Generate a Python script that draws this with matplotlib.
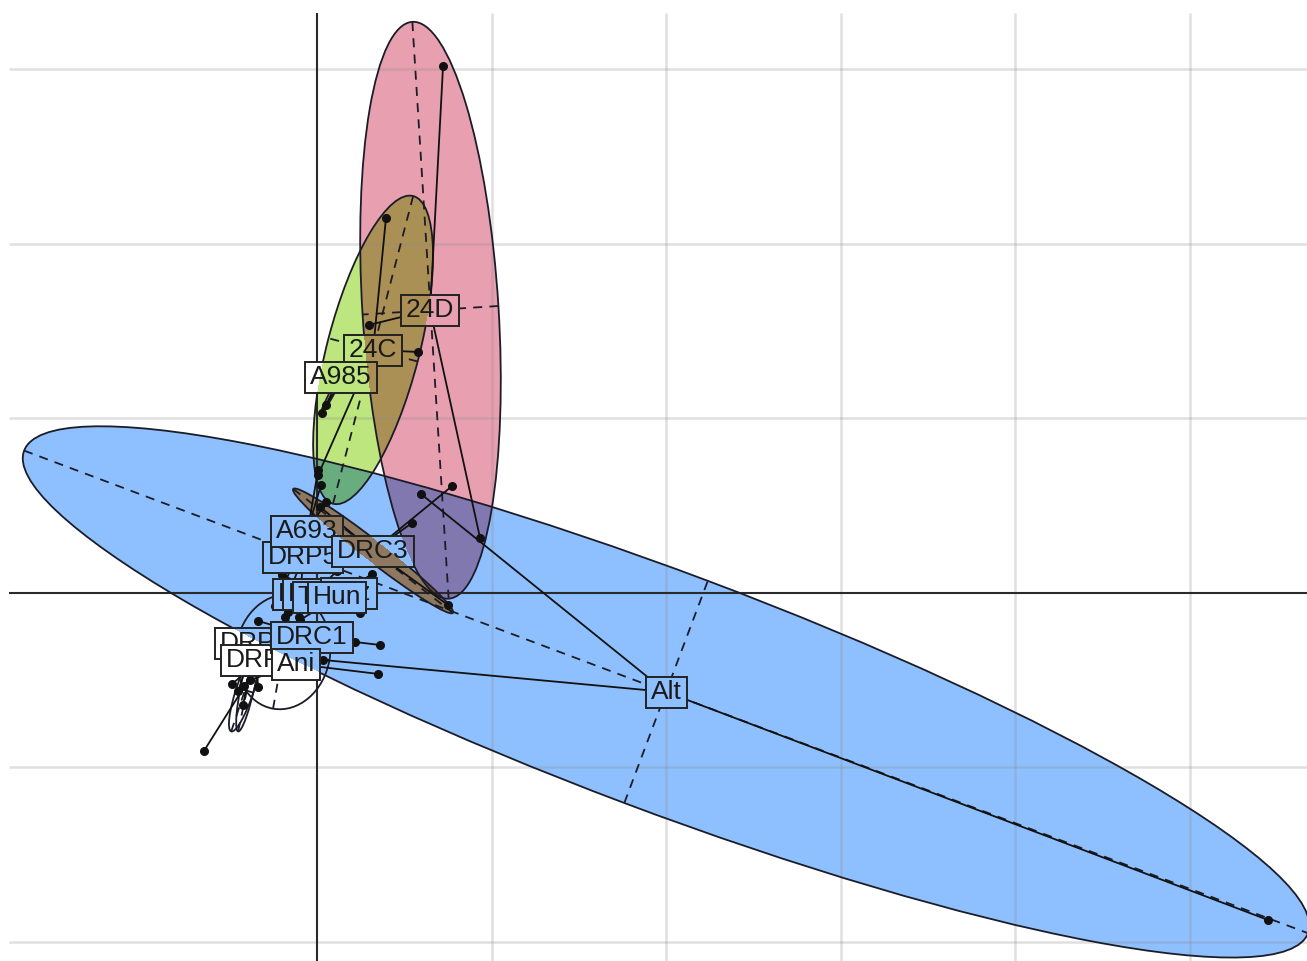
"""
s.class style group plot: star lines, ellipses, boxed labels
"""
import numpy as np
import matplotlib
matplotlib.use('Agg')
from matplotlib import pyplot as plt, colors as mcolors
from matplotlib.patches import Ellipse, Rectangle

# group labels in drawing order, with their centroids
labels = ['DRP1', 'DRP4', 'Kaz', 'Tun', 'Hun', 'DRP3', 'DRP2', 'DRC1', 'Ani',
          'DRP5', 'A693', 'DRC3', '24C', 'A985', '24D', 'Alt']
cent_x = [-0.023, 0.034, 0.183, 0.017, 0.115, -0.355, -0.321, -0.029, -0.120,
          -0.080, -0.057, 0.321, 0.321, 0.138, 0.648, 2.000]
cent_y = [-0.006, -0.006, 0.000, -0.023, -0.023, -0.287, -0.384, -0.252, -0.407,
          0.206, 0.355, 0.241, 1.393, 1.238, 1.622, -0.567]

# individual rows (points) and their group
point_group = ['Alt', 'Alt', 'Alt',
               '24D', '24D', '24D',
               '24C', '24C', '24C',
               'A985', 'A985', 'A985', 'A985',
               'DRC3', 'DRC3', 'DRC3', 'DRC3',
               'A693', 'A693', 'A693',
               'DRP5', 'DRP5', 'DRP5',
               'DRP1', 'DRP1', 'DRP4', 'DRP4', 'Kaz', 'Kaz',
               'Tun', 'Tun', 'Hun', 'Hun',
               'DRC1', 'DRC1', 'DRC1', 'DRC1',
               'Ani', 'Ani', 'Ani',
               'DRP2', 'DRP2', 'DRP2',
               'DRP3', 'DRP3', 'DRP3']
point_x = [5.450, 0.596, 0.034,
           0.722, 0.934, 0.298,
           0.395, 0.579, 0.006,
           0.029, 0.052, 0.223, 0.246,
           0.751, 0.774, 0.544, 0.017,
           0.023, 0.052, -0.241,
           0.006, -0.143, -0.103,
           -0.183, 0.115, -0.200, 0.246, 0.074, 0.304,
           -0.166, 0.189, -0.097, 0.315,
           0.361, 0.218, -0.355, -0.338,
           0.350, -0.384, -0.327,
           -0.487, -0.418, -0.648,
           -0.453, -0.338, -0.424]
point_y = [-1.874, 0.567, -0.384,
           3.020, 0.315, 1.536,
           2.149, 1.381, 0.676,
           1.032, 1.077, 1.421, 1.444,
           -0.069, 0.613, 0.401, 0.493,
           0.619, 0.521, -0.074,
           0.705, 0.046, -0.138,
           -0.138, 0.126, 0.103, -0.115, 0.046, -0.046,
           -0.109, 0.063, -0.155, 0.109,
           -0.298, -0.281, -0.269, -0.160,
           -0.464, -0.499, -0.269,
           -0.521, -0.533, -0.905,
           -0.562, -0.539, -0.642]

# inertia ellipses (centre, half axes, angle in degrees)
ell_group = ['Alt', '24D', '24C', 'DRC3', 'A985', 'Ani', 'DRP2', 'DRP3']
ell_x = [2.000, 0.650, 0.321, 0.321, 0.135, -0.195, -0.413, -0.390]
ell_y = [-0.567, 1.620, 1.393, 0.241, 1.240, -0.338, -0.556, -0.500]
ell_a = [3.93, 1.656, 0.911, 0.579, 0.25, 0.33, 0.25, 0.30]
ell_b = [0.68, 0.390, 0.264, 0.058, 0.015, 0.27, 0.05, 0.04]
ell_angle = [-20.6, 93.6, 75.4, -37.8, 62.2, 80.0, 71.6, 78.0]

grid_x = [1, 2, 3, 4, 5]
grid_y = [-2, -1, 1, 2, 3]

fill_colors = {'Alt': '#8EC0FF', '24D': '#E8A0B0', '24C': '#BDE67E', 'DRC3': '#FFA060'}

xlim = (-1.817, 5.673)
ylim = (-2.109, 3.398)

fig = plt.figure(figsize=(13.07, 9.61), dpi=100)
ax = fig.add_axes([0, 0, 1, 1])
ax.set_axis_off()
ax.set_xlim(*xlim)
ax.set_ylim(*ylim)
ax.set_autoscale_on(False)

# filled ellipses, overlapping colours multiplied like the original device
W, H = 1307, 961
xs = xlim[0] + (np.arange(W) + 0.5) * (xlim[1] - xlim[0]) / W
ys = ylim[0] + (np.arange(H) + 0.5) * (ylim[1] - ylim[0]) / H
gx, gy = np.meshgrid(xs, ys)
img = np.ones((H, W, 3))
for g, cx, cy, a, b, ang in zip(ell_group, ell_x, ell_y, ell_a, ell_b, ell_angle):
    if g not in fill_colors:
        continue
    t = np.deg2rad(ang)
    dx, dy = gx - cx, gy - cy
    u = (dx * np.cos(t) + dy * np.sin(t)) / a
    v = (-dx * np.sin(t) + dy * np.cos(t)) / b
    img[u ** 2 + v ** 2 <= 1] *= mcolors.to_rgb(fill_colors[g])

extent = (xlim[0], xlim[1], ylim[0], ylim[1])
ax.imshow(img, extent=extent, origin='lower', interpolation='nearest', aspect='auto', zorder=1)

# grid and axes
ax.hlines(grid_y, -1.765, xlim[1], color='#8c8c8c', alpha=0.27, lw=1.8, zorder=2)
ax.vlines(grid_x, ylim[0], 3.324, color='#8c8c8c', alpha=0.27, lw=1.8, zorder=2)
ax.hlines(0, -1.765, xlim[1], color='#2a2a2a', lw=1.5, zorder=2.5)
ax.vlines(0, ylim[0], 3.324, color='#2a2a2a', lw=1.5, zorder=2.5)

# ellipse outlines and their axes
for g, cx, cy, a, b, ang in zip(ell_group, ell_x, ell_y, ell_a, ell_b, ell_angle):
    ax.add_patch(Ellipse((cx, cy), 2 * a, 2 * b, angle=ang, fill=False,
                         edgecolor='#1c1c28', lw=1.3, zorder=3))
    t = np.deg2rad(ang)
    for r, d in ((a, t), (b, t + np.pi / 2)):
        ax.plot([cx - r * np.cos(d), cx + r * np.cos(d)], [cy - r * np.sin(d), cy + r * np.sin(d)],
                color='#1c1c28', lw=1.3, ls=(0, (5, 4)), zorder=3)

# star lines from centroid to each row
centre = {n: (x, y) for n, x, y in zip(labels, cent_x, cent_y)}
for g, x, y in zip(point_group, point_x, point_y):
    cx, cy = centre[g]
    ax.plot([cx, x], [cy, y], color='#111111', lw=1.3, zorder=3.2)
ax.plot(point_x, point_y, 'o', ms=5.5, color='#111111', zorder=3.5)

# boxed labels: each box shows the tinted background and hides what is under it
renderer = fig.canvas.get_renderer()
inv = ax.transData.inverted()
z = 10
for name, x, y in zip(labels, cent_x, cent_y):
    txt = ax.text(x, y, name, ha='center', va='center', fontsize=19,
                  family=['Liberation Sans', 'DejaVu Sans'], color='#1a1a1a', zorder=z + 0.5)
    bb = txt.get_window_extent(renderer)
    x0, y0 = inv.transform((bb.x0 - 5, bb.y0 - 4))
    x1, y1 = inv.transform((bb.x1 + 5, bb.y1 + 3))
    clip = Rectangle((x0, y0), x1 - x0, y1 - y0, transform=ax.transData)
    im = ax.imshow(img, extent=extent, origin='lower', interpolation='nearest', aspect='auto', zorder=z)
    im.set_clip_path(clip)
    ax.add_patch(Rectangle((x0, y0), x1 - x0, y1 - y0, fill=False, edgecolor='#222222',
                           lw=1.4, zorder=z + 0.2))
    z += 1

ax.set_xlim(*xlim)
ax.set_ylim(*ylim)
plt.savefig('out.png', dpi=100)
